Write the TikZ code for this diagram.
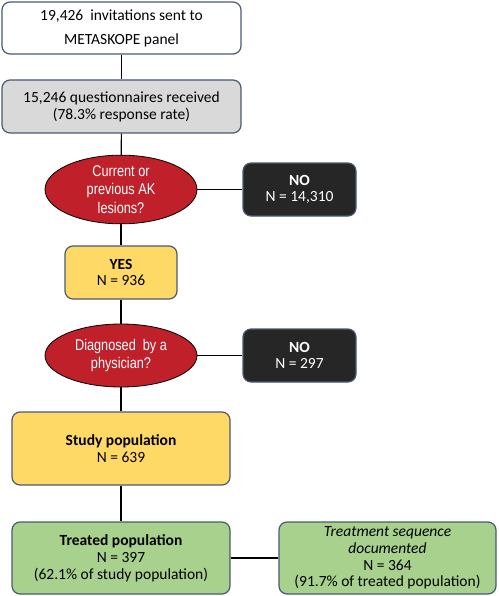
\documentclass[tikz,border=0pt]{standalone}
\usepackage{fontspec}
\setmainfont{Carlito}
\newfontfamily\narrowfont[FakeStretch=0.82]{Liberation Sans}
\usetikzlibrary{shapes.geometric}
\definecolor{bordc}{HTML}{4A5A72}
\definecolor{grayf}{HTML}{D9D9D9}
\definecolor{redf}{HTML}{C0202A}
\definecolor{darkf}{HTML}{262626}
\definecolor{yellowf}{HTML}{FFD966}
\definecolor{greenf}{HTML}{A9D18E}
\tikzset{
  boxbase/.style={rectangle, rounded corners=8pt, draw=bordc, line width=1.2pt, inner sep=0pt, align=center, font=\fontsize{15.5}{16.8}\selectfont},
  whitebox/.style={boxbase, fill=white},
  graybox/.style={boxbase, fill=grayf},
  darkbox/.style={boxbase, fill=darkf, text=white},
  yellowbox/.style={boxbase, fill=yellowf},
  greenbox/.style={boxbase, fill=greenf},
  decision/.style={ellipse, draw=black, line width=0.8pt, fill=redf, text=white, inner sep=0pt, align=center, font=\narrowfont\fontsize{15.5}{18.8}\selectfont},
  link/.style={draw=black, line width=1.1pt}
}
\begin{document}
\begin{tikzpicture}[x=1pt,y=-1pt]
\useasboundingbox (0,0) rectangle (498,596);
\node[whitebox, minimum width=239pt, minimum height=52pt, font=\fontsize{15.5}{24}\selectfont] (b1) at (121.5,28) {19,426\ \ invitations sent to\\METASKOPE panel};
\node[graybox, minimum width=239pt, minimum height=53pt] (b2) at (121.5,106.5) {15,246 questionnaires received\\(78.3\% response rate)};
\node[decision, minimum width=152pt, minimum height=63pt] (e1) at (121,189.5) {Current or\\previous AK\\lesions?};
\node[darkbox, minimum width=113pt, minimum height=53pt] (no1) at (299.5,189.5) {\textbf{NO}\\N = 14,310};
\node[yellowbox, minimum width=112pt, minimum height=53pt] (yes) at (121,272.5) {\textbf{YES}\\N = 936};
\node[decision, minimum width=152pt, minimum height=63pt] (e2) at (121,355.5) {Diagnosed\ \ by a\\physician?};
\node[darkbox, minimum width=113pt, minimum height=53pt] (no2) at (299.5,355.5) {\textbf{NO}\\N = 297};
\node[yellowbox, minimum width=218pt, minimum height=73pt] (study) at (121,448.5) {\textbf{Study population}\\N = 639};
\node[greenbox, minimum width=218pt, minimum height=72pt] (treated) at (121,558) {\textbf{Treated population}\\N = 397\\(62.1\% of study population)};
\node[greenbox, minimum width=217pt, minimum height=72pt] (seq) at (387.5,558) {\textit{Treatment sequence}\\\textit{documented}\\N = 364\\(91.7\% of treated population)};
\begin{scope}[on background layer/.try]
\end{scope}
\draw[link] (b1) -- (b2);
\draw[link] (b2) -- (e1);
\draw[link] (e1) -- (no1);
\draw[link] (e1) -- (yes);
\draw[link] (yes) -- (e2);
\draw[link] (e2) -- (no2);
\draw[link] (e2) -- (study);
\draw[link] (study) -- (treated);
\draw[link] (treated) -- (seq);
\end{tikzpicture}
\end{document}
